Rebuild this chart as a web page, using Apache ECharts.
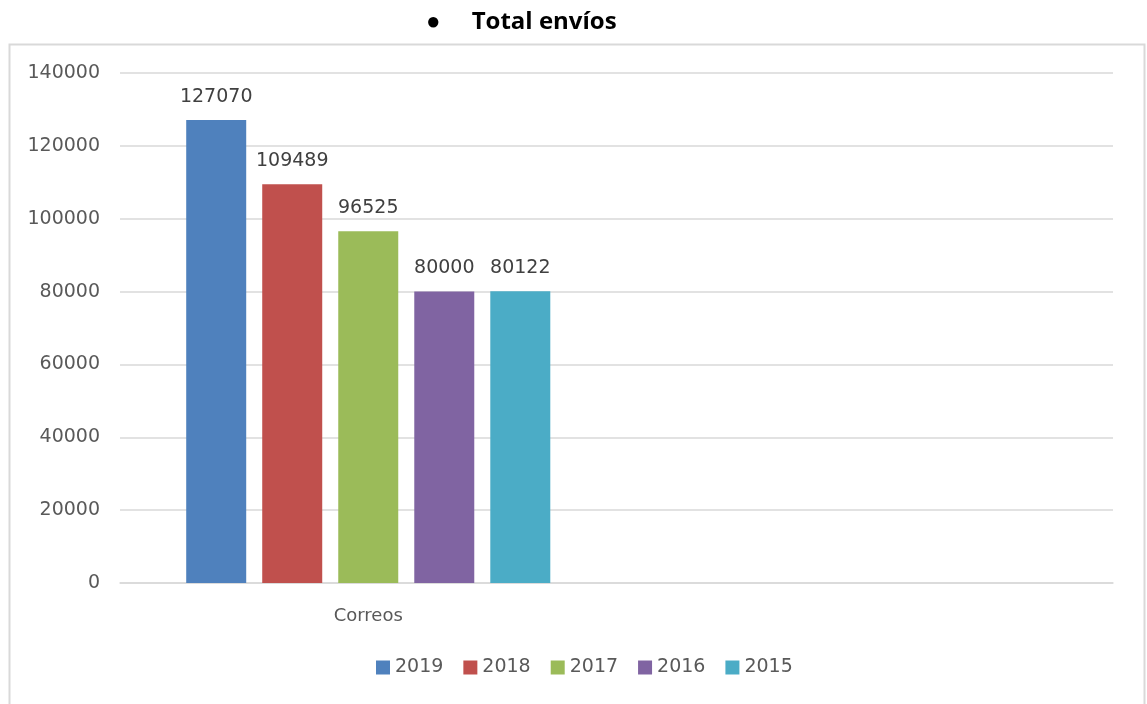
<!DOCTYPE html>
<html><head><meta charset="utf-8">
<script src="https://cdn.jsdelivr.net/npm/echarts@6/dist/echarts.min.js"></script>
<style>html,body{margin:0;padding:0;background:#fff}#c{width:1147px;height:704px}</style>
</head><body><div id="c"></div>
<script>
const categories = ['Correos', ''];
const years = ['2019', '2018', '2017', '2016', '2015'];
const v2019 = [127070];
const v2018 = [109489];
const v2017 = [96525];
const v2016 = [80000];
const v2015 = [80122];
const yTicks = [0, 20000, 40000, 60000, 80000, 100000, 120000, 140000];
const colors = ['#4F81BD', '#C0504D', '#9BBB59', '#8064A2', '#4BACC6'];
const allValues = [v2019, v2018, v2017, v2016, v2015];

const chart = echarts.init(document.getElementById('c'));
const font = 'DejaVu Sans';
chart.setOption({
  animation: false,
  title: {
    text: '●     Total envíos',
    left: 421, top: 5,
    textStyle: { fontFamily: 'Open Sans', fontWeight: 'bold', fontSize: 24, color: '#000' }
  },
  graphic: [{
    type: 'rect', left: 7, top: 42, silent: true,
    shape: { width: 1135, height: 700 },
    style: { fill: 'none', stroke: '#d9d9d9', lineWidth: 2 }
  }],
  legend: {
    bottom: 22, left: 371, itemWidth: 14, itemHeight: 14, itemGap: 20,
    icon: 'rect',
    textStyle: { fontFamily: font, fontSize: 19, color: '#595959' },
    data: years
  },
  grid: { left: 120, right: 34, top: 73, bottom: 121 },
  xAxis: {
    type: 'category', data: categories,
    axisLine: { show: true, lineStyle: { color: '#d9d9d9', width: 1.5 } },
    axisTick: { show: false },
    axisLabel: { fontFamily: font, fontSize: 18, color: '#595959', margin: 24 }
  },
  yAxis: {
    type: 'value', min: yTicks[0], max: yTicks[yTicks.length - 1], interval: 20000,
    axisLine: { show: false }, axisTick: { show: false },
    splitLine: { lineStyle: { color: '#d9d9d9', width: 1.5 } },
    axisLabel: { fontFamily: font, fontSize: 19, color: '#595959', margin: 20, formatter: v => String(v) }
  },
  series: years.map((y, i) => ({
    name: y, type: 'bar', data: allValues[i],
    barWidth: 60, barGap: '26.7%',
    itemStyle: { color: colors[i] },
    label: { show: true, position: 'top', distance: 14, fontFamily: font, fontSize: 19, color: '#404040' }
  }))
});
</script></body></html>
